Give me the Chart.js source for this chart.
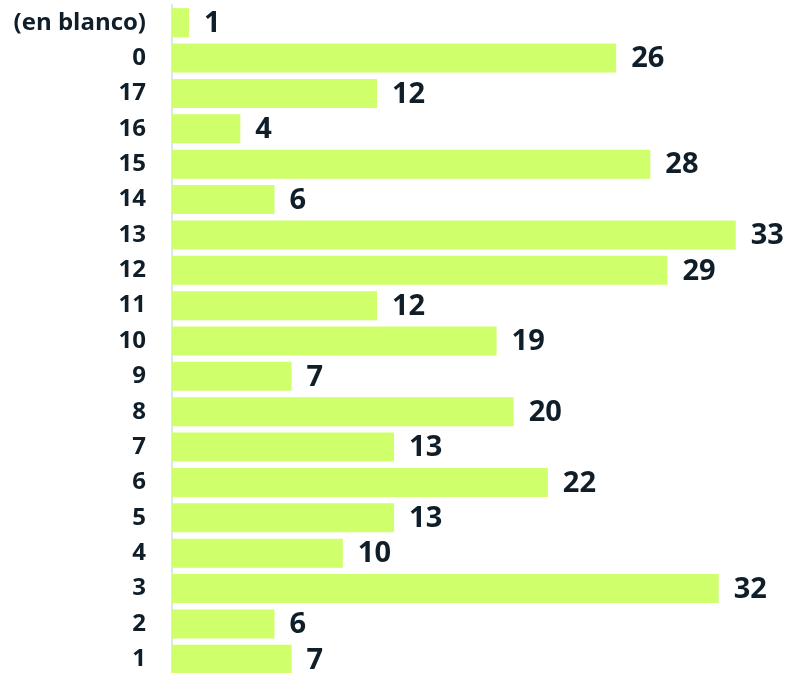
<!DOCTYPE html>
<html>
<head>
<meta charset="utf-8">
<script src="https://cdn.jsdelivr.net/npm/chart.js@4/dist/chart.umd.min.js"></script>
<style>
  html, body { margin: 0; padding: 0; background: #fff; overflow: hidden; }
  canvas { display: block; }
</style>
</head>
<body>
<canvas id="grafico" width="790" height="677"></canvas>
<script>
// datos (de arriba a abajo)
const categorias = ["(en blanco)", "0", "17", "16", "15", "14", "13", "12", "11", "10", "9", "8", "7", "6", "5", "4", "3", "2", "1"];
const valores = [1, 26, 12, 4, 28, 6, 33, 29, 12, 19, 7, 20, 13, 22, 13, 10, 32, 6, 7];

const colorBarra = "#cfff6a";
const colorTexto = "#0f1e29";
const fuente = "'Open Sans', Lato, sans-serif";

// etiquetas de valor a la derecha de cada barra
const etiquetasValor = {
  id: "etiquetasValor",
  afterDatasetsDraw(chart) {
    const ctx = chart.ctx;
    const meta = chart.getDatasetMeta(0);
    ctx.save();
    ctx.font = "bold 29px " + fuente;
    ctx.fillStyle = colorTexto;
    ctx.textAlign = "left";
    ctx.textBaseline = "middle";
    meta.data.forEach((bar, i) => {
      ctx.fillText(String(valores[i]), bar.x + 15, bar.y + 1);
    });
    ctx.restore();
  }
};

new Chart(document.getElementById("grafico"), {
  type: "bar",
  data: {
    labels: categorias,
    datasets: [{
      data: valores,
      backgroundColor: colorBarra,
      borderWidth: 0,
      categoryPercentage: 1,
      barPercentage: 0.82
    }]
  },
  options: {
    indexAxis: "y",
    responsive: false,
    animation: false,
    layout: { padding: { top: 5, right: 3, bottom: 0, left: 0 } },
    plugins: {
      legend: { display: false },
      tooltip: { enabled: false }
    },
    scales: {
      x: {
        display: false,
        min: 0,
        max: 36
      },
      y: {
        // ancho fijo y sin relleno vertical extra
        afterFit(scale) {
          scale.width = 172;
          scale.paddingTop = 0;
          scale.paddingBottom = 0;
        },
        grid: { display: false, drawTicks: false },
        border: { display: true, color: "#d8e8f3", width: 2 },
        ticks: {
          padding: 26,
          color: colorTexto,
          font: { family: fuente, size: 24, weight: "bold" }
        }
      }
    }
  },
  plugins: [etiquetasValor]
});
</script>
</body>
</html>
